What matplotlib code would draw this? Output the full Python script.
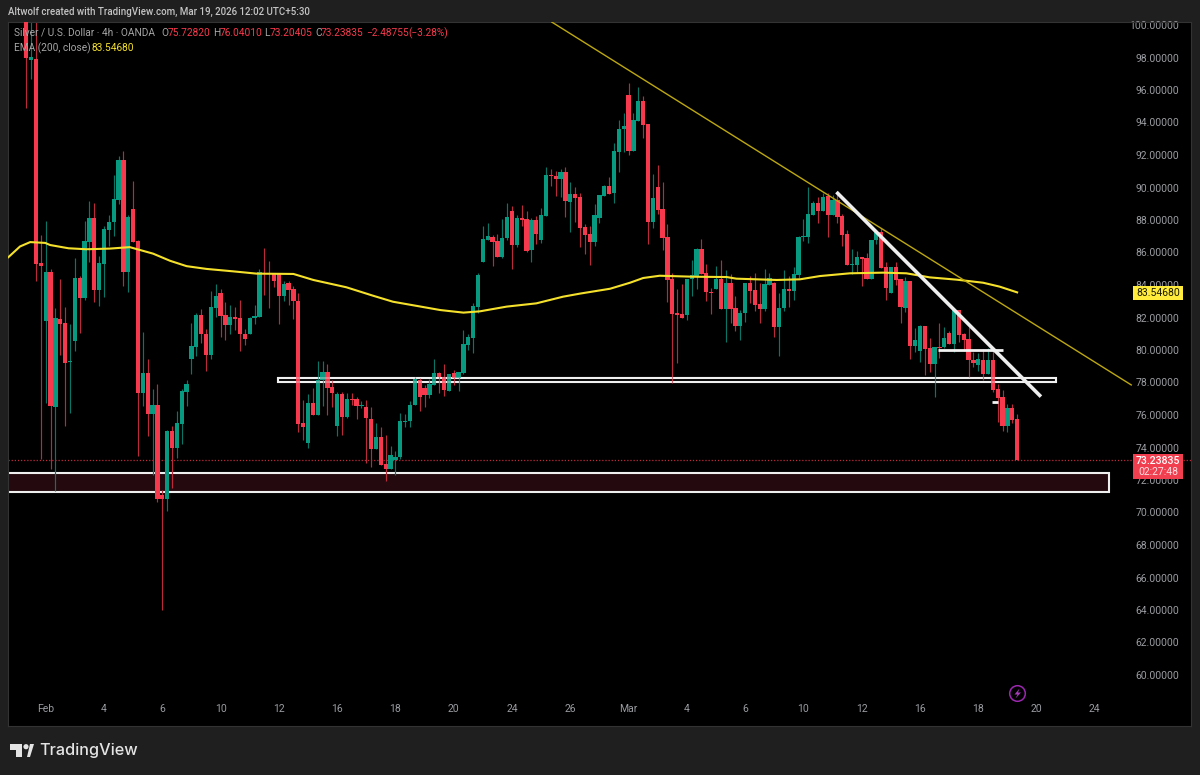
# Silver / U.S. Dollar 4h chart, TradingView dark layout
# -----------------------------------------------------------------------------
import matplotlib
matplotlib.use("Agg")
import matplotlib.pyplot as plt
from matplotlib.patches import Rectangle, Circle, Polygon
import numpy as np

# Data
# -----------------------------------------------------------------------------
opens = [
    101, 97.85, 97.9, 85.36, 81.76, 84.77, 76.48, 81.89, 81.65, 79.25,
    80.55, 84.44, 83.21, 86.64, 88.13, 83.71, 85.32, 87.4, 87.85, 89.23,
    91.67, 84.79, 88.68, 86.68, 77.34, 78.6, 76.04, 76.61, 71.1, 70.86,
    75.03, 74.0, 75.43, 77.4, 79.47, 80.2, 82.15, 80.99, 79.71, 82.61,
    83.52, 82.15, 81.51, 82.02, 81.98, 80.99, 80.99, 81.98, 82.02, 84.75,
    84.75, 84.7, 84.65, 83.35, 84.11, 83.73, 83.03, 75.5, 74.26, 76.72,
    76.0, 78.15, 78.67, 77.7, 75.32, 77.27, 75.86, 76.98, 76.96, 76.57,
    76.47, 75.75, 73.93, 74.63, 72.98, 72.68, 73.23, 73.4, 75.59, 75.63,
    76.62, 78.15, 77.66, 77.23, 77.85, 78.61, 78.32, 77.5, 78.61, 78.3,
    78.61, 80.31, 80.76, 82.65, 85.39, 86.77, 86.98, 86.69, 85.7, 86.89,
    88.53, 86.48, 88.12, 88.06, 86.16, 88.0, 86.77, 88.27, 90.77, 90.71,
    90.52, 90.95, 89.13, 89.58, 89.4, 87.55, 87.14, 86.65, 88.1, 89.48,
    90.09, 89.64, 92.16, 93.6, 95.69, 92.22, 94.11, 95.34, 93.91, 87.88,
    90.05, 88.68, 86.93, 84.35, 82.26, 82.2, 82.13, 84.35, 84.55, 86.24,
    84.72, 83.59, 83.75, 84.35, 82.54, 84.14, 82.58, 81.48, 82.3, 84.1,
    83.69, 82.81, 82.5, 84.02, 84.1, 81.39, 82.56, 83.75, 83.65, 84.64,
    86.95, 86.97, 88.33, 89.03, 88.57, 89.48, 88.29, 89.23, 88.25, 87.14,
    85.23, 85.23, 85.72, 85.64, 84.39, 86.75, 87.28, 85.09, 83.52, 85.09,
    84.35, 82.58, 84.24, 80.27, 79.94, 81.48, 80.1, 79.12, 80.2, 80.2,
    81.02, 80.37, 82.46, 80.98, 80.66, 79.4, 79.08, 79.4, 78.52, 79.36,
    77.58, 77.11, 75.32, 76.43, 75.7282,
]
closes = [
    97.97, 98.0, 85.32, 85.14, 84.83, 76.53, 81.98, 81.63, 79.21, 79.3,
    84.44, 83.23, 86.68, 88.13, 83.71, 85.36, 87.45, 87.87, 89.27, 91.67,
    84.79, 88.17, 86.64, 77.34, 78.6, 76.04, 76.61, 70.86, 70.86, 75.03,
    74.0, 75.52, 77.47, 77.91, 80.26, 82.15, 80.99, 79.71, 82.64, 83.3,
    82.11, 81.51, 82.02, 81.93, 80.99, 80.7, 81.98, 82.09, 84.77, 84.68,
    84.68, 84.22, 83.35, 84.07, 83.71, 83.0, 75.47, 75.28, 76.72, 76.0,
    78.15, 78.67, 77.68, 77.37, 77.27, 75.9, 76.96, 76.94, 76.57, 76.62,
    75.84, 73.93, 74.63, 72.94, 72.68, 73.54, 73.39, 75.63, 75.65, 76.62,
    78.19, 77.13, 77.23, 77.89, 78.61, 78.32, 77.54, 78.52, 78.3, 78.67,
    80.35, 80.8, 82.71, 84.6, 86.83, 87.02, 86.65, 85.7, 86.89, 88.18,
    86.48, 88.12, 87.98, 86.11, 87.98, 87.14, 88.29, 90.77, 90.69, 90.52,
    90.95, 89.19, 89.58, 89.37, 87.5, 87.08, 86.65, 88.29, 89.52, 90.09,
    89.6, 92.22, 93.6, 93.8, 92.22, 94.15, 95.34, 93.85, 87.88, 89.33,
    88.61, 86.89, 84.31, 82.2, 82.15, 81.95, 84.39, 84.59, 86.24, 84.68,
    83.57, 83.53, 84.35, 82.54, 84.14, 82.54, 81.48, 82.26, 84.1, 83.65,
    82.75, 82.54, 84.06, 84.41, 81.39, 82.58, 83.73, 83.63, 84.68, 86.93,
    87.0, 88.37, 89.03, 88.57, 89.44, 88.29, 89.23, 88.2, 87.08, 85.23,
    85.27, 85.72, 85.6, 84.39, 86.77, 87.28, 85.07, 83.79, 85.09, 84.31,
    82.67, 84.24, 80.27, 80.6, 81.45, 80.06, 79.12, 80.2, 80.1, 80.76,
    80.37, 82.5, 80.92, 80.62, 79.38, 79.22, 79.44, 78.52, 79.36, 77.52,
    77.07, 75.32, 76.43, 75.69, 73.23835,
]
highs = [
    102, 101, 101, 87.08, 87.91, 84.99, 82.57, 84.39, 82.64, 81.58,
    85.65, 84.55, 87.96, 89.17, 89.05, 85.8, 87.62, 88.29, 90.77, 91.91,
    92.24, 88.33, 90.42, 86.8, 81.08, 79.43, 77.58, 77.91, 71.4, 75.1,
    75.32, 76.26, 77.58, 78.17, 81.65, 82.29, 82.53, 81.32, 83.62, 84.04,
    83.74, 82.95, 82.79, 82.64, 83.08, 81.3, 82.02, 82.79, 84.99, 86.3,
    85.47, 84.75, 84.7, 84.26, 84.26, 83.95, 83.52, 76.92, 77.27, 77.66,
    79.34, 79.3, 79.12, 78.15, 77.44, 77.44, 77.37, 77.37, 77.13, 76.88,
    76.92, 76.5, 75.49, 75.24, 74.77, 74.09, 73.78, 76.1, 76.04, 76.88,
    78.36, 78.26, 77.85, 78.19, 79.45, 78.67, 79.12, 78.52, 78.77, 78.67,
    81.21, 80.96, 82.87, 84.76, 87.63, 87.84, 87.08, 87.14, 88.04, 89.03,
    88.86, 88.31, 88.92, 88.57, 88.1, 88.25, 88.72, 91.24, 91.14, 91.0,
    91.14, 91.24, 90.36, 90.01, 89.68, 87.75, 87.63, 88.96, 89.52, 90.15,
    90.63, 92.72, 94.15, 94.6, 96.45, 94.6, 96.2, 95.63, 93.91, 90.83,
    91.36, 90.32, 87.75, 84.72, 83.75, 84.06, 84.39, 85.54, 86.28, 86.83,
    85.29, 83.8, 85.19, 85.54, 84.92, 84.68, 83.32, 82.46, 84.1, 84.57,
    84.76, 84.1, 84.96, 84.72, 84.18, 83.53, 84.92, 84.55, 85.13, 87.0,
    88.04, 90.01, 89.19, 89.4, 89.68, 89.64, 89.54, 89.74, 88.37, 87.38,
    86.2, 86.09, 85.72, 85.95, 86.77, 87.38, 87.49, 85.44, 85.09, 85.44,
    84.35, 84.47, 84.24, 81.37, 81.54, 81.48, 80.72, 80.2, 81.64, 81.4,
    81.15, 82.56, 82.46, 81.02, 81.4, 79.9, 79.83, 80.06, 80.14, 80.06,
    77.91, 77.54, 76.68, 76.68, 76.0401,
]
lows = [
    94.9, 96.7, 84.22, 73.29, 76.75, 72.68, 71.32, 79.71, 75.32, 76.13,
    79.93, 81.03, 83.05, 85.43, 82.95, 82.73, 83.27, 86.42, 87.03, 89.0,
    83.95, 83.6, 86.64, 73.5, 76.53, 74.72, 72.3, 70.64, 64.0, 70.09,
    71.51, 73.34, 74.22, 76.57, 78.55, 79.65, 80.44, 78.72, 79.43, 82.02,
    80.81, 80.64, 80.99, 81.25, 79.93, 80.3, 80.99, 81.62, 82.02, 83.38,
    82.6, 83.89, 81.58, 83.01, 82.75, 81.9, 74.94, 74.46, 73.99, 76.0,
    76.0, 76.55, 76.0, 76.5, 74.71, 74.77, 75.8, 76.6, 75.73, 76.41,
    73.02, 72.82, 73.93, 72.94, 71.96, 72.66, 72.31, 73.27, 75.24, 75.28,
    76.62, 76.27, 76.47, 77.02, 77.85, 77.37, 77.17, 77.5, 77.85, 77.5,
    78.52, 80.0, 79.84, 82.26, 85.39, 86.77, 85.19, 85.7, 85.68, 86.77,
    84.96, 86.36, 87.63, 86.05, 85.39, 86.52, 86.56, 88.27, 90.09, 89.48,
    89.44, 88.2, 87.28, 87.88, 86.32, 85.9, 85.23, 86.4, 87.84, 89.48,
    89.6, 89.07, 90.97, 92.2, 92.02, 92.22, 94.11, 93.03, 86.5, 87.53,
    88.37, 86.15, 82.97, 77.99, 79.18, 81.95, 81.85, 83.34, 83.75, 84.68,
    83.0, 82.22, 83.75, 82.54, 80.5, 81.68, 81.17, 80.62, 81.74, 82.87,
    82.42, 81.68, 82.42, 84.02, 80.82, 79.63, 82.42, 82.63, 83.08, 84.41,
    86.73, 86.6, 88.33, 87.84, 88.57, 86.97, 88.29, 87.84, 86.4, 85.23,
    84.68, 84.72, 83.94, 84.35, 84.39, 86.52, 85.07, 83.08, 83.49, 84.0,
    81.64, 82.36, 79.43, 79.9, 79.28, 78.46, 78.67, 77.09, 79.49, 80.14,
    80.37, 79.9, 80.51, 79.94, 78.32, 78.93, 78.71, 78.15, 78.52, 77.44,
    75.59, 75.04, 74.97, 75.49, 73.20405,
]

ema_x = [-3.7, -1.3, 0.8, 3.9, 4.9, 8.7, 12.4, 17.2, 21.3, 26.1, 29.6, 33, 37.1,
         42.6, 47.4, 55, 59.1, 65.9, 71.4, 75.5, 79.7, 85.2, 90, 93.4, 98.9,
         105, 110.5, 114, 120.2, 124.3, 127, 130.4, 137.3, 144.2, 146.2, 154.5,
         159.3, 163.4, 169.6, 176.4, 181.2, 186, 191.5, 197, 200.4, 204]
ema_y = [85.71, 86.37, 86.64, 86.59, 86.46, 86.26, 86.2, 86.24, 86.33, 85.93, 85.49,
         85.16, 84.99, 84.84, 84.7, 84.68, 84.31, 83.86, 83.34, 82.97, 82.75,
         82.46, 82.3, 82.38, 82.67, 82.87, 83.28, 83.47, 83.77, 84.14, 84.43,
         84.57, 84.51, 84.49, 84.39, 84.31, 84.35, 84.55, 84.72, 84.76, 84.72,
         84.47, 84.33, 84.14, 83.9, 83.54680]

price_ticks = list(range(60, 102, 2))
date_ticks = [4, 16, 28, 40, 52, 64, 76, 88, 100, 112, 124, 136, 148, 160, 172,
              184, 196, 208, 220]
date_labels = ["Feb", "4", "6", "10", "12", "16", "18", "20", "24", "26", "Mar",
               "4", "6", "10", "12", "16", "18", "20", "24"]

# Drawings on the chart: candle position and price
trend_x = [108.2, 227.5]
trend_y = [100.18, 77.85]
white_x = [166.8, 208.9]
white_y = [89.72, 77.13]
level_80_x = [187.7, 201]
level_80_y = [79.98, 79.98]
level_77_x = [198.8, 200]
level_77_y = [76.8, 76.8]
zone_78 = (51.8, 212.1, 78.04, 78.3)
zone_71 = (-8, 223, 71.28, 72.45)
last_close = 73.23835

BG = "#1f1f1f"
RED = "#f7394d"
GREEN = "#089981"
LABEL = "#9a9ca1"
HEAD = "#a6a6a6"
FONT = "Roboto"

# Plot
# -----------------------------------------------------------------------------
plt.rcParams["font.family"] = [FONT, "DejaVu Sans"]

W, H = 1200, 775
fig = plt.figure(figsize=(W / 100, H / 100), dpi=100, facecolor=BG)
ax = fig.add_axes([8 / W, 1 - 726 / H, (1191 - 8) / W, (726 - 22) / H], facecolor="#000000")

n = len(opens)
idx = np.arange(n)
o = np.array(opens)
c = np.array(closes)
up = c >= o
colors = np.where(up, GREEN, RED)
wick_colors = np.where(up, "#0a7566", "#b92a3a")

# Zone under the candles
x0, x1, y0, y1 = zone_71
ax.add_patch(Rectangle((x0, y0), x1 - x0, y1 - y0, facecolor="#240a0e",
                       edgecolor="#eeeeee", linewidth=1.5, zorder=1.5))
x0, x1, y0, y1 = zone_78
ax.add_patch(Rectangle((x0, y0), x1 - x0, y1 - y0, facecolor="none",
                       edgecolor="#f0f0f0", linewidth=1.5, zorder=1.5))

ax.vlines(idx, lows, highs, colors=wick_colors, linewidth=0.85, zorder=2)
ax.bar(idx, np.maximum(np.abs(c - o), 0.06), bottom=np.minimum(o, c), width=0.88,
       color=colors, linewidth=0, zorder=3)

# Price line of the last close
ax.axhline(last_close, color="#c22a3a", linewidth=0.9, linestyle=(0, (1, 1.5)), zorder=1)

# EMA and the drawings
ax.plot(ema_x, ema_y, color="#f5e12c", linewidth=1.5, zorder=4)
ax.plot(trend_x, trend_y, color="#bda80f", linewidth=1.0, zorder=5)
ax.plot(white_x, white_y, color="#eeeeee", linewidth=2.6, zorder=6, solid_capstyle="butt")
ax.plot(level_80_x, level_80_y, color="#f2f2f2", linewidth=2.0, zorder=6, solid_capstyle="butt")
ax.plot(level_77_x, level_77_y, color="#f2f2f2", linewidth=2.0, zorder=6, solid_capstyle="butt")

# The upper zone shows faintly through the candles
x0, x1, y0, y1 = zone_78
ax.add_patch(Rectangle((x0, y0), x1 - x0, y1 - y0, facecolor="none",
                       edgecolor="#f0f0f0", linewidth=1.5, alpha=0.35, zorder=5))

ax.set_xlim(-3.77, 239.8)
ax.set_ylim(100 - (726 - 25) / 16.25, 100 + 3 / 16.25)

ax.yaxis.tick_right()
ax.set_yticks(price_ticks)
ax.set_yticklabels([f"{p:.5f}" for p in price_ticks], ha="right")
ax.tick_params(axis="y", length=0, pad=-8.5, labelsize=7.5, labelcolor=LABEL)
ax.set_xticks(date_ticks)
ax.set_xticklabels(date_labels)
ax.tick_params(axis="x", length=0, pad=-16, labelsize=7.5, labelcolor=LABEL)
for spine in ax.spines.values():
    spine.set_color("#333333")
    spine.set_linewidth(0.8)

# Overlay in pixels for header, tags and logo
# -----------------------------------------------------------------------------
ov = fig.add_axes([0, 0, 1, 1], facecolor="none")
ov.set_xlim(0, W)
ov.set_ylim(H, 0)
ov.axis("off")

ov.text(8, 12, "Altwolf created with TradingView.com, Mar 19, 2026 12:02 UTC+5:30",
        color="#c4c4c4", fontsize=7.0, va="center", fontweight="medium")

ov.text(14.5, 33, "Silver / U.S. Dollar · 4h · OANDA", color=HEAD, fontsize=7.3, va="center")
legend_parts = [(161, "O", HEAD), (168, "75.72820", RED), (213, "H", HEAD),
                (220, "76.04010", RED), (264.5, "L", HEAD), (270, "73.20405", RED),
                (315, "C", HEAD), (321, "73.23835", RED),
                (366, "−2.48755", RED), (408, "(−3.28%)", RED)]
for x, txt, col in legend_parts:
    ov.text(x, 33, txt, color=col, fontsize=7.3, va="center")
ov.text(14.5, 48, "EMA (200, close)", color=HEAD, fontsize=7.3, va="center")
ov.text(92, 48, "83.54680", color="#f5e12c", fontsize=7.3, va="center")

# Price tags
ov.add_patch(Rectangle((1133, 286), 50, 13.5, facecolor="#ffeb3b", edgecolor="none"))
ov.text(1158, 292.8, "83.54680", color="#1a1a00", fontsize=7.5, ha="center", va="center")
ov.add_patch(Rectangle((1133, 453.5), 50, 25, facecolor="#f23f50", edgecolor="none"))
ov.text(1158, 460.5, "73.23835", color="#ffffff", fontsize=7.5, ha="center", va="center",
        fontweight="medium")
ov.text(1158, 472, "02:27:48", color="#ffdfe2", fontsize=7.5, ha="center", va="center")

# Lightning icon
ov.add_patch(Circle((1017.5, 693.5), 7.8, facecolor="none", edgecolor="#9c27b0", linewidth=1.1))
ov.add_patch(Polygon([(1019.5, 688.5), (1014.5, 694.5), (1017.5, 694.5), (1015.5, 698.5),
                      (1021, 692.5), (1018, 692.5)], closed=True, facecolor="#a53bb8",
                     edgecolor="none"))

# TradingView logo
logo = "#e4e4e4"
ov.add_patch(Polygon([(10, 744), (22, 744), (22, 757), (15.5, 757), (15.5, 749.5), (10, 749.5)],
                     closed=True, facecolor=logo, edgecolor="none"))
ov.add_patch(Circle((26, 746.7), 2.6, facecolor=logo, edgecolor="none"))
ov.add_patch(Polygon([(27, 757), (30, 744), (34, 744), (30, 757)], closed=True,
                     facecolor=logo, edgecolor="none"))
ov.text(39.5, 751, "TradingView", color=logo, fontsize=11.7, va="center",
        family=["Inter", "DejaVu Sans"], fontweight="medium")

fig.savefig("out.png", dpi=100, facecolor=BG)
